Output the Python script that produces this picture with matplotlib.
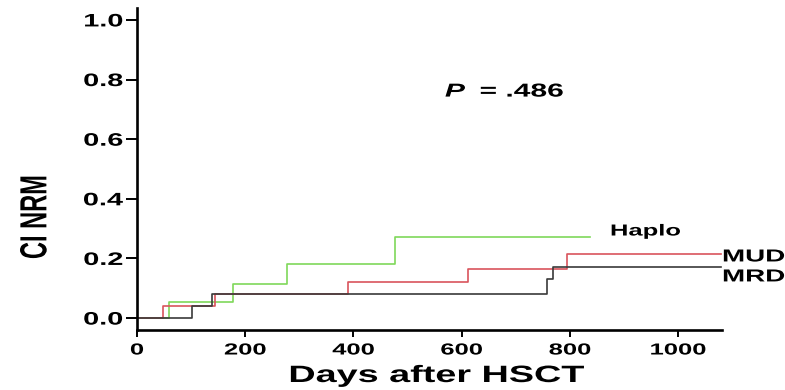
import matplotlib
matplotlib.use("Agg")
import matplotlib.pyplot as plt
from matplotlib.patheffects import AbstractPathEffect
from matplotlib.transforms import Affine2D

plt.rcParams['font.family'] = ['Liberation Sans', 'DejaVu Sans']
plt.rcParams['font.weight'] = 'bold'

# ---------------- data ----------------
mrd_days = [0, 102, 139, 757, 768, 1080]
mrd_ci = [0.0, 0.04, 0.08, 0.13, 0.17, 0.17]

mud_days = [0, 48, 144, 389, 611, 794, 1080]
mud_ci = [0.0, 0.04, 0.08, 0.12, 0.165, 0.215, 0.215]

haplo_days = [0, 59, 178, 278, 477, 837]
haplo_ci = [0.0, 0.054, 0.114, 0.18, 0.272, 0.272]

x_ticks = [0, 200, 400, 600, 800, 1000]
y_ticks = [0.0, 0.2, 0.4, 0.6, 0.8, 1.0]
y_tick_labels = ['0.0', '0.2', '0.4', '0.6', '0.8', '1.0']
p_value_text = '= .486'


# horizontal stretch of glyphs (the reference is stretched horizontally)
class Stretch(AbstractPathEffect):
    def __init__(self, s=1.6, anchor='center', axis='x'):
        super().__init__()
        self.s, self.anchor, self.axis = s, anchor, axis

    def draw_path(self, renderer, gc, tpath, affine, rgbFace=None):
        ext = tpath.get_extents()
        t = Affine2D()
        if self.axis == 'x':
            c = {'left': 0.0, 'center': (ext.x0 + ext.x1) / 2, 'right': ext.x1}[self.anchor]
            t.translate(-c, 0).scale(self.s, 1).translate(c, 0)
        else:
            c = (ext.y0 + ext.y1) / 2
            t.translate(0, -c).scale(1, self.s).translate(0, c)
        renderer.draw_path(gc, tpath, t + affine, rgbFace)


S = 1.6
fig = plt.figure(figsize=(7.85, 3.9), dpi=100)
ax = fig.add_axes([137 / 785, 1 - 330 / 390, (722 - 137) / 785, (330 - 8) / 390])

ax.step(haplo_days, haplo_ci, where='post', color='#7fd85a', lw=1.2)
ax.step(mud_days, mud_ci, where='post', color='#d9545c', lw=1.2)
ax.step(mrd_days, mrd_ci, where='post', color='#3a3a3a', lw=1.2)

ax.set_xlim(0, 1081)
ax.set_ylim(-0.04, 1.04)
for side in ('top', 'right'):
    ax.spines[side].set_visible(False)
for side in ('left', 'bottom'):
    ax.spines[side].set_linewidth(1.9)

ax.set_xticks(x_ticks)
ax.set_xticklabels([str(v) for v in x_ticks], fontsize=11.5, fontweight='bold')
ax.set_yticks(y_ticks)
ax.set_yticklabels(y_tick_labels, fontsize=13, fontweight='bold')
ax.tick_params(axis='x', length=5, width=1.4, pad=4)
ax.tick_params(axis='y', length=8, width=1.4, pad=2)

for lbl in ax.get_xticklabels():
    lbl.set_path_effects([Stretch(S, 'center')])
for lbl in ax.get_yticklabels():
    lbl.set_path_effects([Stretch(S, 'right')])

ax.set_xlabel('Days after HSCT', fontsize=17, fontweight='bold')
ax.xaxis.set_label_coords((437 - 137) / 585, (330 - 364) / 322)
ax.xaxis.label.set_path_effects([Stretch(S, 'center')])

ax.set_ylabel('CI NRM', fontsize=17, fontweight='bold', va='center')
ax.yaxis.set_label_coords((35 - 137) / 585, (330 - 217) / 322)
ax.yaxis.label.set_path_effects([Stretch(S, axis='y')])

# series labels
txt_kw = dict(fontweight='bold', va='center', ha='left')
t1 = ax.text(874, 0.292, 'Haplo', fontsize=11.5, **txt_kw)
t2 = ax.text(1081, 0.205, 'MUD', fontsize=12.5, **txt_kw)
t3 = ax.text(1081, 0.138, 'MRD', fontsize=12.5, **txt_kw)
t4 = ax.text(569, 0.758, 'P', fontsize=13.5, style='italic', **txt_kw)
t5 = ax.text(633, 0.758, p_value_text, fontsize=13.5, **txt_kw)
for t in (t1, t2, t3, t4, t5):
    t.set_path_effects([Stretch(S, 'left')])

fig.savefig('out.png', dpi=100)
